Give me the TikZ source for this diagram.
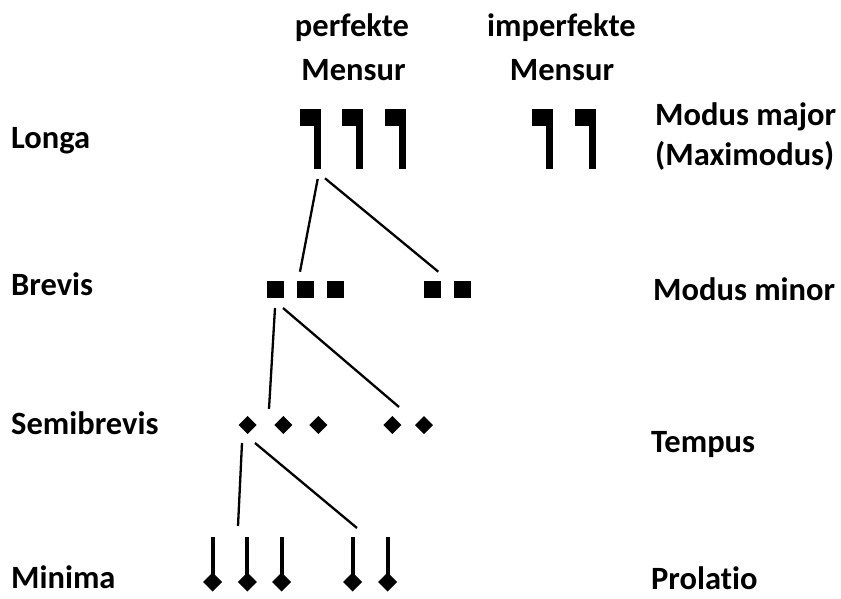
\documentclass[tikz,border=0pt]{standalone}
\usepackage{fontspec}
\setmainfont[Ligatures=NoCommon]{Carlito}
\begin{document}
\begin{tikzpicture}[x=1pt,y=-1pt,
  lbl/.style={font=\bfseries\fontsize{32.5}{36}\selectfont, inner sep=0pt, anchor=base west},
  hdr/.style={font=\bfseries\fontsize{32.5}{36}\selectfont, inner sep=0pt, anchor=base},
  conn/.style={line width=2.3pt},
  longa/.pic={\fill (0,0) rectangle (21,17); \fill (14,17) rectangle (21,60);},
  brevis/.pic={\fill (-8.5,-8.5) rectangle (8.5,8.5);},
  semibrevis/.pic={\fill (-9,0) -- (0,-9) -- (9,0) -- (0,9) -- cycle;},
  minima/.pic={\fill (-2,-45) rectangle (2,0); \fill (-9.5,0) -- (0,-9.5) -- (9.5,0) -- (0,9.5) -- cycle;}
]
\useasboundingbox (0,0) rectangle (841,598);

% headers
\node[hdr] (perf1) at (352,36) {perfekte};
\node[hdr] (perf2) at (353.5,80) {Mensur};
\node[hdr] (imp1) at (561.5,36) {imperfekte};
\node[hdr] (imp2) at (562,80) {Mensur};

% left labels
\node[lbl] (tLonga) at (11,148) {Longa};
\node[lbl] (tBrevis) at (11,295) {Brevis};
\node[lbl] (tSemi) at (11,434) {Semibrevis};
\node[lbl] (tMinima) at (11,588) {Minima};

% right labels
\node[lbl] (tMaj) at (655,125) {Modus major};
\node[lbl] (tMax) at (655,165) {(Maximodus)};
\node[lbl] (tMin) at (653,300) {Modus minor};
\node[lbl] (tTemp) at (651,452) {Tempus};
\node[lbl] (tProl) at (651,589) {Prolatio};

% longae
\coordinate (L1) at (300,109);
\coordinate (L2) at (342,109);
\coordinate (L3) at (385,109);
\coordinate (L4) at (532,109);
\coordinate (L5) at (575,109);
\foreach \n in {L1,L2,L3,L4,L5} \pic at (\n) {longa};

% breves
\coordinate (B1) at (275.3,289);
\coordinate (B2) at (305.3,289);
\coordinate (B3) at (335.8,289);
\coordinate (B4) at (432.5,289);
\coordinate (B5) at (462,289);
\foreach \n in {B1,B2,B3,B4,B5} \pic at (\n) {brevis};

% semibreves
\coordinate (S1) at (247.7,425);
\coordinate (S2) at (283.3,425);
\coordinate (S3) at (318.3,425);
\coordinate (S4) at (392.3,425);
\coordinate (S5) at (424,425);
\foreach \n in {S1,S2,S3,S4,S5} \pic at (\n) {semibrevis};

% minimae
\coordinate (M1) at (212.7,582);
\coordinate (M2) at (247.3,582);
\coordinate (M3) at (281.7,582);
\coordinate (M4) at (352.7,582);
\coordinate (M5) at (387.7,582);
\foreach \n in {M1,M2,M3,M4,M5} \pic at (\n) {minima};

% connector ends
\coordinate (LfootA) at (317.7,179);
\coordinate (LfootB) at (325,178.3);
\coordinate (BtopA) at (300,271.7);
\coordinate (BtopB) at (438.3,271.7);
\coordinate (BfootA) at (275,308);
\coordinate (BfootB) at (283,308);
\coordinate (StopA) at (269,409);
\coordinate (StopB) at (399,407);
\coordinate (SfootA) at (242,443);
\coordinate (SfootB) at (255,443);
\coordinate (MtopA) at (238,526);
\coordinate (MtopB) at (357,528);

\draw[conn] (LfootA) -- (BtopA);
\draw[conn] (LfootB) -- (BtopB);
\draw[conn] (BfootA) -- (StopA);
\draw[conn] (BfootB) -- (StopB);
\draw[conn] (SfootA) -- (MtopA);
\draw[conn] (SfootB) -- (MtopB);
\end{tikzpicture}
\end{document}
